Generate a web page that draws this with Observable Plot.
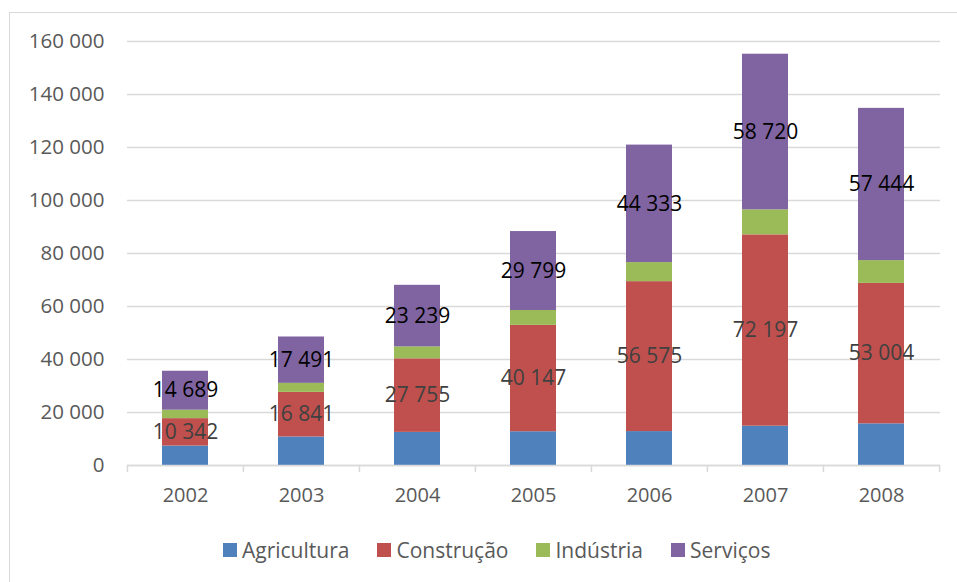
<!DOCTYPE html>
<html>
<head>
<meta charset="utf-8">
<script src="https://cdn.jsdelivr.net/npm/d3@7"></script>
<script src="https://cdn.jsdelivr.net/npm/@observablehq/plot@0.6"></script>
<style>
  html, body { margin: 0; padding: 0; background: #fff; }
  body { width: 957px; height: 582px; overflow: hidden; position: relative; font-family: "Open Sans", sans-serif; }
  #frame { position: absolute; left: 9px; top: 12px; width: 980px; height: 600px; border: 1.5px solid #d9d9d9; box-sizing: border-box; pointer-events: none; }
  #chart { position: absolute; left: 0; top: 0; }
  #legend { position: absolute; left: 223px; top: 536px; display: flex; gap: 28px; font-size: 21px; color: #595959; line-height: 28px; }
  #legend .item { display: flex; align-items: center; }
  #legend .sw { width: 14px; height: 14px; margin-right: 5px; display: inline-block; }
</style>
</head>
<body>
<div id="frame"></div>
<div id="chart"></div>
<div id="legend"></div>
<script>
const years = ["2002", "2003", "2004", "2005", "2006", "2007", "2008"];
const sectors = ["Agricultura", "Construção", "Indústria", "Serviços"];
const colors = ["#4F81BD", "#C0504D", "#9BBB59", "#8064A2"];
const agricultura = [7340, 10760, 12500, 12740, 12800, 14840, 15720];
const construcao = [10342, 16841, 27755, 40147, 56575, 72197, 53004];
const industria = [3200, 3400, 4500, 5600, 7200, 9440, 8600];
const servicos = [14689, 17491, 23239, 29799, 44333, 58720, 57444];
const yTicks = [0, 20000, 40000, 60000, 80000, 100000, 120000, 140000, 160000];

const series = [agricultura, construcao, industria, servicos];
const data = [];
years.forEach((yr, i) => {
  sectors.forEach((s, j) => {
    data.push({year: yr, sector: s, value: series[j][i]});
  });
});

const fmt = v => d3.format(",")(v).replace(/,/g, " ");
const W = 957, ML = 127, MR = 17;
const step = (W - ML - MR) / years.length;

const chart = Plot.plot({
  width: W,
  height: 525,
  marginLeft: ML,
  marginRight: MR,
  marginTop: 41,
  marginBottom: 60,
  style: {fontFamily: "Open Sans, sans-serif", fontSize: "20px", background: "transparent"},
  x: {domain: years, paddingInner: 0.6, paddingOuter: 0.3, label: null},
  y: {domain: [0, 160000], label: null},
  color: {domain: sectors, range: colors},
  marks: [
    Plot.gridY(yTicks, {stroke: "#d9d9d9", strokeOpacity: 1, strokeWidth: 1.5}),
    Plot.axisY(yTicks, {tickSize: 0, tickPadding: 23, tickFormat: fmt, fill: "#595959", fontSize: 20.5, label: null}),
    Plot.barY(data, {x: "year", y: "value", fill: "sector", order: sectors}),
    Plot.ruleY([0], {stroke: "#d9d9d9", strokeWidth: 1.5}),
    Plot.axisX({tickSize: 7, dx: -step / 2, stroke: "#d9d9d9", strokeWidth: 1.5, text: null, label: null}),
    Plot.axisX(["2008"], {tickSize: 7, dx: step / 2, stroke: "#d9d9d9", strokeWidth: 1.5, text: null, label: null}),
    Plot.axisX({tickSize: 0, tickPadding: 22, fill: "#595959", fontSize: 20, label: null}),
    Plot.text(data, Plot.stackY({
      x: "year", y: "value", order: sectors,
      text: d => (d.sector === "Construção" || d.sector === "Serviços") ? fmt(d.value) : null,
      fill: d => d.sector === "Serviços" ? "#000000" : "#404040",
      fontSize: 21
    }))
  ]
});
document.getElementById("chart").appendChild(chart);

const legend = document.getElementById("legend");
sectors.forEach((s, i) => {
  const item = document.createElement("div");
  item.className = "item";
  const sw = document.createElement("span");
  sw.className = "sw";
  sw.style.background = colors[i];
  const t = document.createElement("span");
  t.textContent = s;
  item.appendChild(sw);
  item.appendChild(t);
  legend.appendChild(item);
});
</script>
</body>
</html>
